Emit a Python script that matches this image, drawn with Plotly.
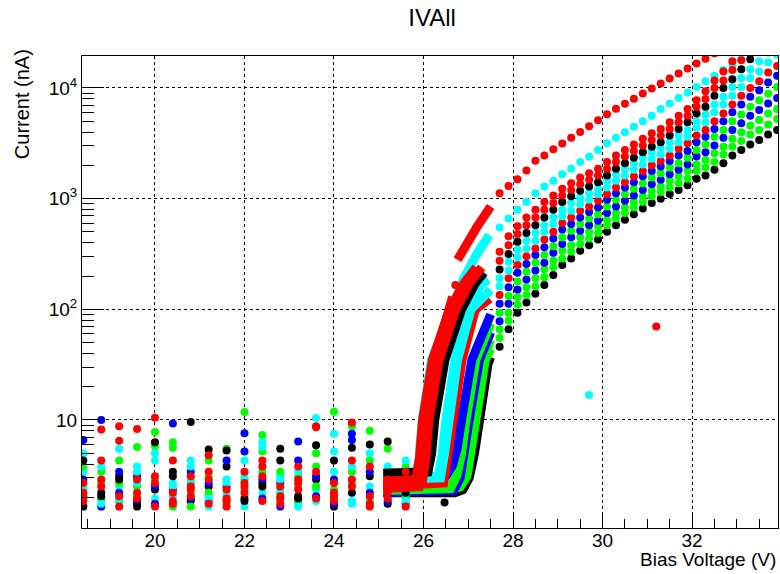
import plotly.graph_objects as go

# ---------------- data ----------------
RED, BLACK, GREEN, BLUE, CYAN = "#ff0000", "#000000", "#00ff00", "#0000ff", "#00ffff"

low_v = [18.4, 18.8, 19.2, 19.6, 20.0, 20.4, 20.8, 21.2, 21.6, 22.0,
         22.4, 22.8, 23.2, 23.6, 24.0, 24.4, 24.8, 25.2, 25.6]
high_v = [27.7, 27.9, 28.1, 28.3, 28.5, 28.7, 28.9, 29.1, 29.3, 29.5,
          29.7, 29.9, 30.1, 30.3, 30.5, 30.7, 30.9, 31.1, 31.3, 31.5,
          31.7, 31.9, 32.1, 32.3, 32.5, 32.7, 32.9, 33.1, 33.3, 33.5,
          33.7, 33.9]

# series k0 (black)
k0_low = [1.65, 2.2, 3.1, 1.75, 2.35, 3.4, 1.85, 2.5, 3.8, 1.95, 2.7, 4.3, 2.05, 2.9, 1.65, 2.2, 3.1, 1.75, 2.35]
k0_dense_v = [25.1, 26.7, 26.88, 27.02, 27.14, 27.24, 27.44, 27.5]
k0_dense_i = [2.2, 2.2, 2.35, 3.0, 5, 10, 32, 37]
k0_high = [46, 66, 93, 115, 138, 166, 204, 251, 288, 339, 380, 427, 501, 575, 646, 724, 813, 912,
           1000, 1100, 1200, 1320, 1510, 1620, 1820, 2090, 2460, 2750, 3090, 3390, 3800, 4170]
# series k1 (green)
k1_low = [1.95, 2.7, 4.3, 2.05, 2.9, 1.65, 2.2, 3.1, 1.75, 2.35, 3.4, 1.85, 2.5, 3.8, 1.95, 2.7, 4.3, 2.05, 2.9]
k1_dense_v = [25.1, 26.82, 26.97, 27.07, 27.17, 27.38, 27.5]
k1_dense_i = [2.4, 2.5, 3.1, 5, 10, 35, 44]
k1_high = [55, 79, 110, 135, 162, 195, 240, 288, 331, 389, 437, 490, 575, 661, 741, 832, 933, 1050,
           1150, 1260, 1380, 1510, 1780, 1910, 2140, 2510, 2950, 3310, 3800, 4170, 4680, 5250]
# series k2 (green)
k2_low = [2.35, 3.4, 1.85, 2.5, 7.8, 6.3, 2.7, 4.3, 2.05, 2.9, 7.3, 2.2, 3.1, 5.0, 2.35, 3.4, 1.85, 2.5, 3.8]
k2_dense_v = [25.1, 26.75, 26.9, 27.0, 27.1, 27.32, 27.5]
k2_dense_i = [2.35, 2.45, 3.1, 5, 10, 35, 53]
k2_high = [66, 93, 129, 158, 191, 229, 275, 339, 380, 447, 501, 562, 646, 741, 832, 933, 1050, 1180,
           1290, 1450, 1590, 1780, 2040, 2240, 2570, 2950, 3470, 3980, 4570, 5130, 5890, 6460]
# series k3 (blue)
k3_low = [2.9, 1.65, 2.2, 3.1, 1.75, 2.35, 3.4, 1.85, 2.5, 5.2, 1.95, 2.7, 4.3, 2.05, 2.9, 6.6, 2.2, 3.1, 1.75]
k3_dense_v = [25.1, 26.67, 26.82, 26.92, 27.02, 27.25, 27.5]
k3_dense_i = [2.2, 2.3, 3.0, 5, 10, 35, 62]
k3_high = [78, 112, 151, 186, 224, 263, 324, 389, 447, 513, 575, 631, 741, 851, 955, 1070, 1200, 1350,
           1480, 1660, 1820, 2040, 2400, 2630, 3020, 3550, 4170, 4790, 5620, 6310, 7240, 8130]
# series k4 (green)
k4_low = [3.8, 1.95, 2.7, 5.7, 5.8, 5.6, 1.65, 2.2, 5.5, 11.8, 5.2, 3.4, 1.85, 2.5, 11.9, 8.8, 8.0, 5.5, 2.05]
k4_dense_v = [25.1, 26.6, 26.75, 26.85, 26.95, 27.17, 27.5]
k4_dense_i = [2.3, 2.4, 3.2, 5, 10, 35, 75]
k4_high = [93, 132, 178, 219, 263, 309, 372, 447, 513, 589, 661, 724, 851, 977, 1100, 1230, 1380, 1550,
           1700, 1910, 2090, 2340, 2750, 3090, 3630, 4170, 5010, 5750, 6760, 7760, 8910, 10200]
# series k5 (blue)
k5_low = [6.6, 10.0, 3.4, 1.85, 2.5, 9.3, 1.95, 2.7, 4.3, 7.6, 2.9, 1.65, 6.4, 3.1, 1.75, 7.5, 3.4, 1.85, 2.5]
k5_dense_v = [25.1, 26.5, 26.65, 26.75, 26.85, 27.08, 27.5]
k5_dense_i = [3.0, 3.1, 3.9, 5.5, 10, 35, 90]
k5_high = [112, 158, 214, 257, 309, 363, 437, 525, 589, 676, 759, 832, 977, 1120, 1260, 1410, 1590, 1780,
           1950, 2190, 2460, 2690, 3240, 3630, 4270, 5010, 6030, 7080, 8320, 9550, 11200, 12900]
# series k6 (red)
k6_low = [2.05, 2.9, 1.65, 2.2, 3.1, 1.75, 2.35, 3.4, 1.85, 2.5, 3.8, 1.95, 2.7, 8.6, 2.05, 2.9, 1.65, 2.2, 3.1]
k6_dense_v = [25.1, 26.45, 26.55, 26.65, 26.86, 27.16, 27.48]
k6_dense_i = [2.5, 2.7, 5, 10, 35, 100, 125]
k6_high = [135, 191, 251, 302, 355, 427, 501, 603, 676, 776, 851, 955, 1100, 1260, 1410, 1590, 1780, 2000,
           2190, 2460, 2820, 3160, 3720, 4170, 5010, 5890, 7080, 8510, 10000, 11500, 13800, 15800]
# series k7 (cyan)
k7_low = [2.5, 3.8, 1.95, 2.7, 4.3, 2.05, 2.9, 1.65, 2.2, 3.1, 5.7, 2.35, 3.4, 1.85, 5.2, 3.8, 1.95, 2.7, 4.3]
k7_dense_v = [25.1, 26.38, 26.47, 26.56, 26.76, 27.06, 27.5]
k7_dense_i = [2.9, 3.0, 5, 10, 35, 100, 150]
k7_high = [162, 224, 295, 355, 417, 501, 589, 692, 776, 891, 977, 1100, 1260, 1450, 1620, 1820, 2040, 2290,
           2510, 2820, 3240, 3630, 4370, 4900, 6030, 7080, 8510, 10200, 12300, 14100, 17000, 20000]
# series k8 (cyan)
k8_low = [5.0, 1.75, 5.5, 3.4, 5.0, 2.5, 3.8, 1.95, 2.7, 4.3, 6.3, 2.9, 1.65, 10.4, 7.5, 1.75, 5.0, 3.4, 1.85]
k8_dense_v = [25.1, 26.33, 26.42, 26.5, 26.7, 26.98, 27.3, 27.45]
k8_dense_i = [3.0, 3.1, 5, 10, 35, 100, 170, 185]
k8_high = [191, 269, 347, 417, 490, 575, 676, 794, 912, 1020, 1120, 1230, 1450, 1660, 1860, 2090, 2340, 2630,
           2880, 3240, 3720, 4170, 5010, 5750, 7080, 8320, 10200, 12300, 14800, 17400, 20900, 25100]
# series k9 (black)
k9_low = [4.3, 2.05, 2.9, 1.65, 6.3, 3.1, 9.6, 5.4, 5.3, 1.85, 2.5, 5.5, 1.95, 5.9, 4.3, 5.6, 6.0, 6.4, 2.2]
k9_dense_v = [25.1, 26.1, 26.18, 26.25, 26.48, 26.85, 27.15, 27.35]
k9_dense_i = [3.3, 3.4, 5, 10, 35, 100, 170, 215]
k9_high = [229, 316, 407, 490, 575, 676, 794, 933, 1050, 1180, 1290, 1410, 1620, 1860, 2090, 2340, 2630, 2950,
           3240, 3720, 4270, 4900, 5890, 6760, 8510, 10000, 12000, 14800, 18200, 21400, 26300, 30900]
# series k10 (red)
k10_low = [1.85, 2.5, 6.5, 1.95, 2.7, 4.3, 2.05, 2.9, 1.65, 2.2, 3.1, 1.75, 2.35, 3.4, 1.85, 2.5, 3.8, 1.95, 2.7]
k10_dense_v = [25.1, 25.97, 26.05, 26.12, 26.35, 26.72, 27.02, 27.3]
k10_dense_i = [2.6, 2.7, 4.5, 10, 35, 100, 170, 240]
k10_high = [275, 380, 479, 575, 676, 794, 912, 1070, 1200, 1350, 1480, 1620, 1860, 2140, 2400, 2690, 3020, 3390,
            3720, 4270, 4900, 5620, 6760, 7940, 10000, 11700, 14500, 17800, 21900, 26300]
# series k11 (red)
k11_low = [2.2, 8.2, 8.8, 8.3, 10.5, 1.85, 2.5, 4.8, 1.95, 2.7, 4.3, 2.05, 2.9, 8.8, 2.2, 9.5, 1.75, 2.35, 3.4]
k11_dense_v = [25.1, 25.83, 25.91, 25.98, 26.2, 26.58, 26.9, 27.18]
k11_dense_i = [2.8, 2.9, 4.5, 10, 35, 100, 170, 240]
k11_high = [331, 457, 562, 676, 794, 933, 1070, 1230, 1380, 1550, 1700, 1860, 2140, 2460, 2750, 3090, 3470, 3890,
            4270, 4900, 5620, 6460, 7760, 9330, 11700, 14100, 17400, 21400]
# early-breakdown red device (upper red line)
rx_low = [2.7, 4.3, 2.05, 2.9, 1.65, 2.2, 3.1, 1.75, 2.35, 3.4, 1.85, 2.5, 3.8, 1.95, 2.7, 4.3, 2.05, 2.9, 1.65]
rx_dense_v = [25.1, 25.9, 25.98, 26.05, 26.25, 26.55, 26.65, None, 26.76, 26.9, 27.05, 27.2, 27.35, 27.5]
rx_dense_i = [2.4, 2.5, 4.5, 10, 35, 100, 130, None, 280, 360, 450, 560, 690, 850]
rx_high = [1120, 1300, 1500, 1800, 2200, 2450, 2800, 3150, 3550, 4000, 4500, 5100, 5800, 6500, 7200, 8000,
           8900, 9900, 11000, 12200, 13500, 15000, 16600, 18400, 20500]
# early-breakdown cyan device (upper cyan line)
cx_low = [3.4, 1.85, 2.5, 3.8, 1.95, 2.7, 4.3, 2.05, 2.9, 1.65, 2.2, 3.1, 1.75, 2.35, 3.4, 1.85, 2.5, 3.8, 1.95]
cx_dense_v = [25.1, 25.8, 25.9, 25.97, 26.18, 26.56, 26.9, 27.2, 27.47]
cx_dense_i = [2.6, 2.7, 4.5, 10, 35, 90, 190, 320, 470]
cx_high = [550, 661, 794, 933, 1120, 1290, 1450, 1660, 1860, 2140, 2400, 2750, 3160, 3550, 3980, 4470,
           5010, 5620, 6460, 7240, 8130, 9120, 10200, 11500, 12900, 14500, 16200, 18200, 20400]

# isolated points
extra_v = [31.2, 29.7, 26.47, 26.71]
extra_i = [70, 16.8, 1.8, 166]
extra_c = [RED, CYAN, BLACK, RED]

y_tickvals = [10, 100, 1000, 10000]
y_ticktext = ["10", "10<sup>2</sup>", "10<sup>3</sup>", "10<sup>4</sup>"]
y_minor = [2, 3, 4, 5, 6, 7, 8, 9, 20, 30, 40, 50, 60, 70, 80, 90,
           200, 300, 400, 500, 600, 700, 800, 900, 2000, 3000, 4000, 5000, 6000, 7000, 8000, 9000]

series = [
    (CYAN, cx_low, cx_dense_v, cx_dense_i, cx_high),
    (BLACK, k0_low, k0_dense_v, k0_dense_i, k0_high),
    (GREEN, k1_low, k1_dense_v, k1_dense_i, k1_high),
    (GREEN, k2_low, k2_dense_v, k2_dense_i, k2_high),
    (BLUE, k3_low, k3_dense_v, k3_dense_i, k3_high),
    (GREEN, k4_low, k4_dense_v, k4_dense_i, k4_high),
    (BLUE, k5_low, k5_dense_v, k5_dense_i, k5_high),
    (RED, k6_low, k6_dense_v, k6_dense_i, k6_high),
    (CYAN, k7_low, k7_dense_v, k7_dense_i, k7_high),
    (CYAN, k8_low, k8_dense_v, k8_dense_i, k8_high),
    (BLACK, k9_low, k9_dense_v, k9_dense_i, k9_high),
    (RED, rx_low, rx_dense_v, rx_dense_i, rx_high),
    (RED, k10_low, k10_dense_v, k10_dense_i, k10_high),
    (RED, k11_low, k11_dense_v, k11_dense_i, k11_high),
]

# ---------------- figure ----------------
fig = go.Figure()
for color, lo, dv, di, hi in series:
    fig.add_trace(go.Scatter(x=dv, y=di, mode="lines", connectgaps=False,
                             line=dict(color=color, width=9), hoverinfo="skip"))
    fig.add_trace(go.Scatter(x=low_v + high_v[:len(hi)], y=lo + hi, mode="markers",
                             marker=dict(color=color, size=8, line=dict(width=0))))
fig.add_trace(go.Scatter(x=extra_v, y=extra_i, mode="markers",
                         marker=dict(color=extra_c, size=8, line=dict(width=0))))

FONT = "Liberation Sans, Arial, Helvetica, sans-serif"
fig.update_layout(
    width=780, height=574,
    margin=dict(l=82, r=2, t=56, b=46, pad=0),
    paper_bgcolor="white", plot_bgcolor="white",
    showlegend=False,
    font=dict(family=FONT, size=19, color="black"),
    title=dict(text="IVAll", x=0.554, xanchor="center", xref="container",
               y=0.97, yanchor="middle", yref="container", font=dict(size=24, family=FONT)),
    xaxis=dict(range=[18.37, 33.92], tick0=20, dtick=2, ticks="inside", ticklen=16,
               tickcolor="black", tickwidth=1, showline=True, linecolor="black", linewidth=1,
               mirror=True, showgrid=True, gridcolor="black", griddash="dot", gridwidth=1,
               zeroline=False, ticklabelstandoff=-5,
               minor=dict(tick0=18.5, dtick=0.5, ticks="inside", ticklen=9,
                          tickcolor="black", showgrid=False)),
    yaxis=dict(type="log", range=[0.024, 4.289], tickmode="array", tickvals=y_tickvals,
               ticktext=y_ticktext, ticks="inside", ticklen=22, tickcolor="black", tickwidth=1,
               showline=True, linecolor="black", linewidth=1, mirror=True,
               showgrid=True, gridcolor="black", griddash="dot", gridwidth=1, zeroline=False,
               minor=dict(tickmode="array", tickvals=y_minor, ticks="inside", ticklen=12,
                          tickcolor="black", showgrid=False)),
    annotations=[
        dict(text="Current (nA)", xref="paper", yref="paper", x=-0.086, y=1.019,
             xanchor="center", yanchor="top", textangle=-90, showarrow=False,
             font=dict(size=20, family=FONT)),
        dict(text="Bias Voltage (V)", xref="paper", yref="paper", x=1.0, y=-0.066,
             xanchor="right", yanchor="middle", showarrow=False,
             font=dict(size=19, family=FONT)),
    ],
)

fig.write_html("out.html")
